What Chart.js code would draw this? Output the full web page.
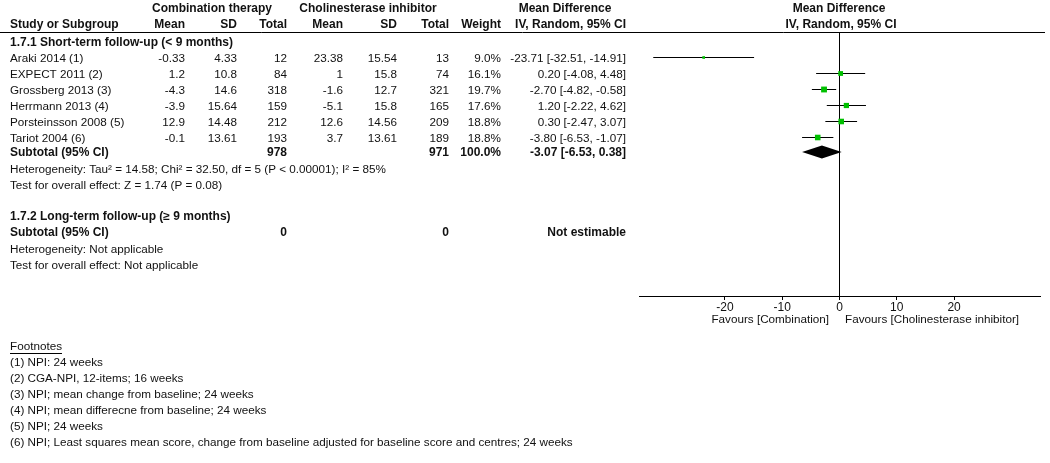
<!DOCTYPE html>
<html>
<head>
<meta charset="utf-8">
<script src="https://cdn.jsdelivr.net/npm/chart.js@4.4.1/dist/chart.umd.min.js"></script>
<style>
html, body { margin: 0; padding: 0; background: #fff; }
canvas { display: block; }
</style>
</head>
<body>
<canvas id="forest" width="1050" height="463"></canvas>
<script>
'use strict';

// study rows
var studies = ['Araki 2014 (1)', 'EXPECT 2011 (2)', 'Grossberg 2013 (3)', 'Herrmann 2013 (4)', 'Porsteinsson 2008 (5)', 'Tariot 2004 (6)'];
var comboMean = [-0.33, 1.2, -4.3, -3.9, 12.9, -0.1];
var comboSD = [4.33, 10.8, 14.6, 15.64, 14.48, 13.61];
var comboN = [12, 84, 318, 159, 212, 193];
var cheiMean = [23.38, 1, -1.6, -5.1, 12.6, 3.7];
var cheiSD = [15.54, 15.8, 12.7, 15.8, 14.56, 13.61];
var cheiN = [13, 74, 321, 165, 209, 189];
var weights = [9.0, 16.1, 19.7, 17.6, 18.8, 18.8];
var md = [-23.71, 0.20, -2.70, 1.20, 0.30, -3.80];
var mdLow = [-32.51, -4.08, -4.82, -2.22, -2.47, -6.53];
var mdHigh = [-14.91, 4.48, -0.58, 4.62, 3.07, -1.07];

// pooled result
var subtotalN = [978, 971];
var subtotalMD = [-3.07, -6.53, 0.38];

var tickValues = [-20, -10, 0, 10, 20];

var footnotes = [
    '(1) NPI: 24 weeks',
    '(2) CGA-NPI, 12-items; 16 weeks',
    '(3) NPI; mean change from baseline; 24 weeks',
    '(4) NPI; mean differecne from baseline; 24 weeks',
    '(5) NPI; 24 weeks',
    '(6) NPI; Least squares mean score, change from baseline adjusted for baseline score and centres; 24 weeks'
];

var family = '"Liberation Sans", Arial, sans-serif';
var green = '#00c000';
var ink = '#111';
var cols = [185, 237, 287, 343, 397, 449, 501, 626];
var subtotalRow = 5.9;

function ci(m, lo, hi) {
    return m.toFixed(2) + ' [' + lo.toFixed(2) + ', ' + hi.toFixed(2) + ']';
}

function txt(ctx, s, x, y, align, bold) {
    ctx.font = bold ? 'bold 12px ' + family : '11.7px ' + family;
    ctx.textAlign = align || 'left';
    ctx.fillText(s, x, y);
}

var tablePlugin = {
    id: 'table',
    afterDraw: function(chart) {
        var ctx = chart.ctx;
        var xs = chart.scales.x, ys = chart.scales.y;
        ctx.save();
        ctx.fillStyle = ink;
        ctx.strokeStyle = '#000';
        ctx.lineWidth = 1;
        ctx.textBaseline = 'middle';

        // headers
        txt(ctx, 'Combination therapy', 212, 8.5, 'center', true);
        txt(ctx, 'Cholinesterase inhibitor', 368, 8.5, 'center', true);
        txt(ctx, 'Mean Difference', 565, 8.5, 'center', true);
        txt(ctx, 'Mean Difference', 839, 8.5, 'center', true);
        txt(ctx, 'Study or Subgroup', 10, 24.5, 'left', true);
        ['Mean', 'SD', 'Total', 'Mean', 'SD', 'Total', 'Weight', 'IV, Random, 95% CI'].forEach(function(h, i) {
            txt(ctx, h, cols[i], 24.5, 'right', true);
        });
        txt(ctx, 'IV, Random, 95% CI', 841, 24.5, 'center', true);

        ctx.beginPath();
        ctx.moveTo(0, 32.5);
        ctx.lineTo(1045, 32.5);
        ctx.stroke();

        txt(ctx, '1.7.1 Short-term follow-up (< 9 months)', 10, 42.5, 'left', true);

        studies.forEach(function(s, i) {
            var y = ys.getPixelForValue(i) + 1;
            txt(ctx, s, 10, y);
            var vals = [String(comboMean[i]), String(comboSD[i]), String(comboN[i]),
                String(cheiMean[i]), String(cheiSD[i]), String(cheiN[i]),
                weights[i].toFixed(1) + '%', ci(md[i], mdLow[i], mdHigh[i])];
            vals.forEach(function(v, j) { txt(ctx, v, cols[j], y, 'right'); });
        });

        var ySub = ys.getPixelForValue(subtotalRow) + 1;
        txt(ctx, 'Subtotal (95% CI)', 10, ySub, 'left', true);
        txt(ctx, String(subtotalN[0]), cols[2], ySub, 'right', true);
        txt(ctx, String(subtotalN[1]), cols[5], ySub, 'right', true);
        txt(ctx, '100.0%', cols[6], ySub, 'right', true);
        txt(ctx, ci(subtotalMD[0], subtotalMD[1], subtotalMD[2]), cols[7], ySub, 'right', true);

        // pooled diamond
        var yd = ys.getPixelForValue(subtotalRow);
        ctx.fillStyle = '#000';
        ctx.beginPath();
        ctx.moveTo(xs.getPixelForValue(subtotalMD[1]), yd);
        ctx.lineTo(xs.getPixelForValue(subtotalMD[0]), yd - 6.5);
        ctx.lineTo(xs.getPixelForValue(subtotalMD[2]), yd);
        ctx.lineTo(xs.getPixelForValue(subtotalMD[0]), yd + 6.5);
        ctx.closePath();
        ctx.fill();
        ctx.fillStyle = ink;

        txt(ctx, 'Heterogeneity: Tau\u00b2 = 14.58; Chi\u00b2 = 32.50, df = 5 (P < 0.00001); I\u00b2 = 85%', 10, 169.5);
        txt(ctx, 'Test for overall effect: Z = 1.74 (P = 0.08)', 10, 185.5);

        txt(ctx, '1.7.2 Long-term follow-up (\u2265 9 months)', 10, 216.5, 'left', true);
        txt(ctx, 'Subtotal (95% CI)', 10, 232.5, 'left', true);
        txt(ctx, '0', cols[2], 232.5, 'right', true);
        txt(ctx, '0', cols[5], 232.5, 'right', true);
        txt(ctx, 'Not estimable', cols[7], 232.5, 'right', true);
        txt(ctx, 'Heterogeneity: Not applicable', 10, 249.5);
        txt(ctx, 'Test for overall effect: Not applicable', 10, 265.5);

        txt(ctx, 'Favours [Combination]', 829, 320, 'right');
        txt(ctx, 'Favours [Cholinesterase inhibitor]', 845, 320, 'left');

        txt(ctx, 'Footnotes', 10, 346.5);
        var w = ctx.measureText('Footnotes').width;
        ctx.beginPath();
        ctx.moveTo(10, 353.5);
        ctx.lineTo(10 + w, 353.5);
        ctx.stroke();
        footnotes.forEach(function(f, i) { txt(ctx, f, 10, 362.5 + i * 16); });

        ctx.restore();
    }
};

var ciSets = studies.map(function(s, i) {
    return {
        label: s,
        data: [{ x: mdLow[i], y: i }, { x: mdHigh[i], y: i }],
        showLine: true,
        borderColor: '#000',
        borderWidth: 1,
        pointRadius: 0,
        order: 2
    };
});

var squares = {
    label: 'Mean difference',
    data: studies.map(function(s, i) { return { x: md[i], y: i }; }),
    pointStyle: 'rect',
    pointRadius: weights.map(function(w) { return w * 0.21; }),
    backgroundColor: green,
    borderWidth: 0,
    order: 1
};

var ctx = document.getElementById('forest').getContext('2d');
var forest = new Chart(ctx, {
    type: 'scatter',
    data: { datasets: ciSets.concat([squares]) },
    options: {
        responsive: false,
        animation: false,
        layout: { padding: { left: 639, right: 10, top: 33, bottom: 147 } },
        plugins: { legend: { display: false }, tooltip: { enabled: false } },
        scales: {
            x: {
                type: 'linear',
                min: -35,
                max: 35,
                afterBuildTicks: function(scale) {
                    scale.ticks = tickValues.map(function(v) { return { value: v }; });
                },
                afterFit: function(scale) { scale.height = 20; },
                grid: {
                    color: function(c) { return c.tick && c.tick.value === 0 ? '#000' : 'rgba(0,0,0,0)'; },
                    tickColor: '#000',
                    tickLength: 4,
                    lineWidth: 1
                },
                border: { display: true, color: '#000', width: 1 },
                ticks: {
                    color: ink,
                    font: { family: family, size: 12 },
                    padding: 0,
                    maxRotation: 0,
                    autoSkip: false
                }
            },
            y: {
                type: 'linear',
                display: false,
                reverse: true,
                min: -1.53125,
                max: 14.90625
            }
        }
    },
    plugins: [tablePlugin]
});
</script>
</body>
</html>
